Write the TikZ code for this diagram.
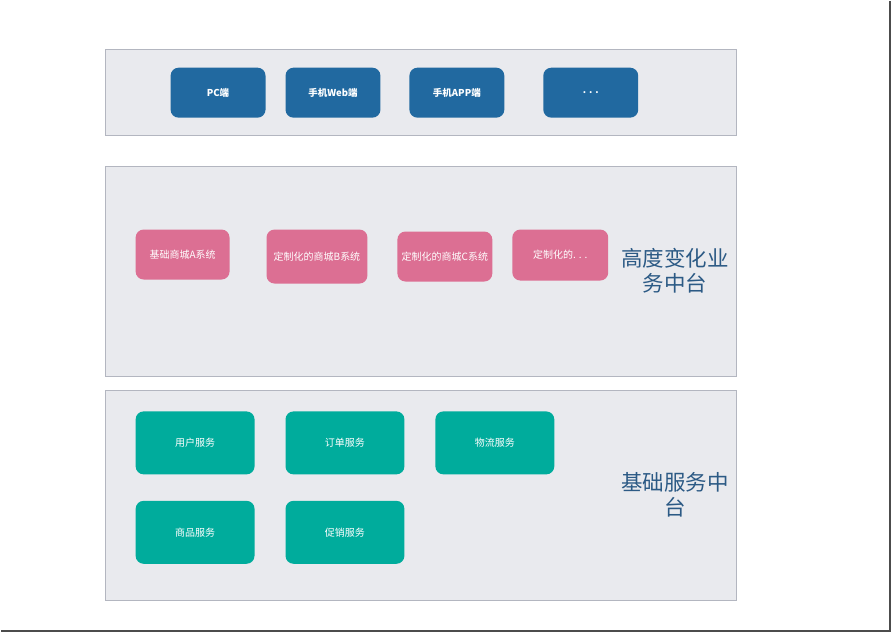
\documentclass[tikz,border=0pt]{standalone}
\usepackage{fontspec}
\setmainfont{Noto Sans CJK SC}
\usetikzlibrary{positioning}
\definecolor{panelfill}{HTML}{E9EAEE}
\definecolor{panelline}{HTML}{B3B6C0}
\definecolor{clientblue}{HTML}{2169A0}
\definecolor{bizpink}{HTML}{DC6F93}
\definecolor{baseteal}{HTML}{00AC9C}
\definecolor{labelblue}{HTML}{2C5A85}
\tikzset{
  panel/.style={draw=panelline, fill=panelfill, line width=0.8pt},
  box/.style={rounded corners=8pt, text=white, inner sep=0pt, font=\fontsize{10}{12}\selectfont},
  clientbox/.style={box, fill=clientblue, minimum width=95pt, minimum height=50pt, font=\fontsize{9.5}{11}\selectfont\bfseries},
  bizbox/.style={box, fill=bizpink, minimum height=50pt},
  basebox/.style={box, fill=baseteal, minimum width=119pt, minimum height=63pt},
  layerlabel/.style={text=labelblue, align=center, font=\fontsize{21.5}{25}\selectfont}
}
\begin{document}
\begin{tikzpicture}[x=1pt, y=-1pt]
\fill[white] (0,0) rectangle (893,634);
\draw[black!70, line width=1.5pt] (890,0) -- (890,631) -- (0,631);
\path[panel] (105,49) rectangle (736,135);
\path[panel] (105,166) rectangle (736,376);
\path[panel] (105,390) rectangle (736,600);
% clients
\node[clientbox] (pc) at (217.5,92) {PC端};
\node[clientbox] (mweb) at (332.5,92) {手机Web端};
\node[clientbox] (mapp) at (456.5,92) {手机APP端};
\node[clientbox] (cmore) at (590.5,92) {. . .};
% business
\node[bizbox, minimum width=94pt] (shopa) at (182,254) {基础商城A系统};
\node[bizbox, minimum width=101pt, minimum height=54pt] (shopb) at (316.5,256) {定制化的商城B系统};
\node[bizbox, minimum width=95pt] (shopc) at (444.5,256) {定制化的商城C系统};
\node[bizbox, minimum width=96pt, minimum height=51pt] (shopmore) at (560,254.5) {定制化的. . .};
\node[layerlabel] (bizlabel) at (675,270) {高度变化业\\务中台};
% base services
\node[basebox] (user) at (194.5,442.5) {用户服务};
\node[basebox] (order) at (344.5,442.5) {订单服务};
\node[basebox] (ship) at (494.5,442.5) {物流服务};
\node[basebox] (goods) at (194.5,532) {商品服务};
\node[basebox] (promo) at (344.5,532) {促销服务};
\node[layerlabel] (baselabel) at (675,494) {基础服务中\\台};
\useasboundingbox (0,0) rectangle (893,634);
\end{tikzpicture}
\end{document}
